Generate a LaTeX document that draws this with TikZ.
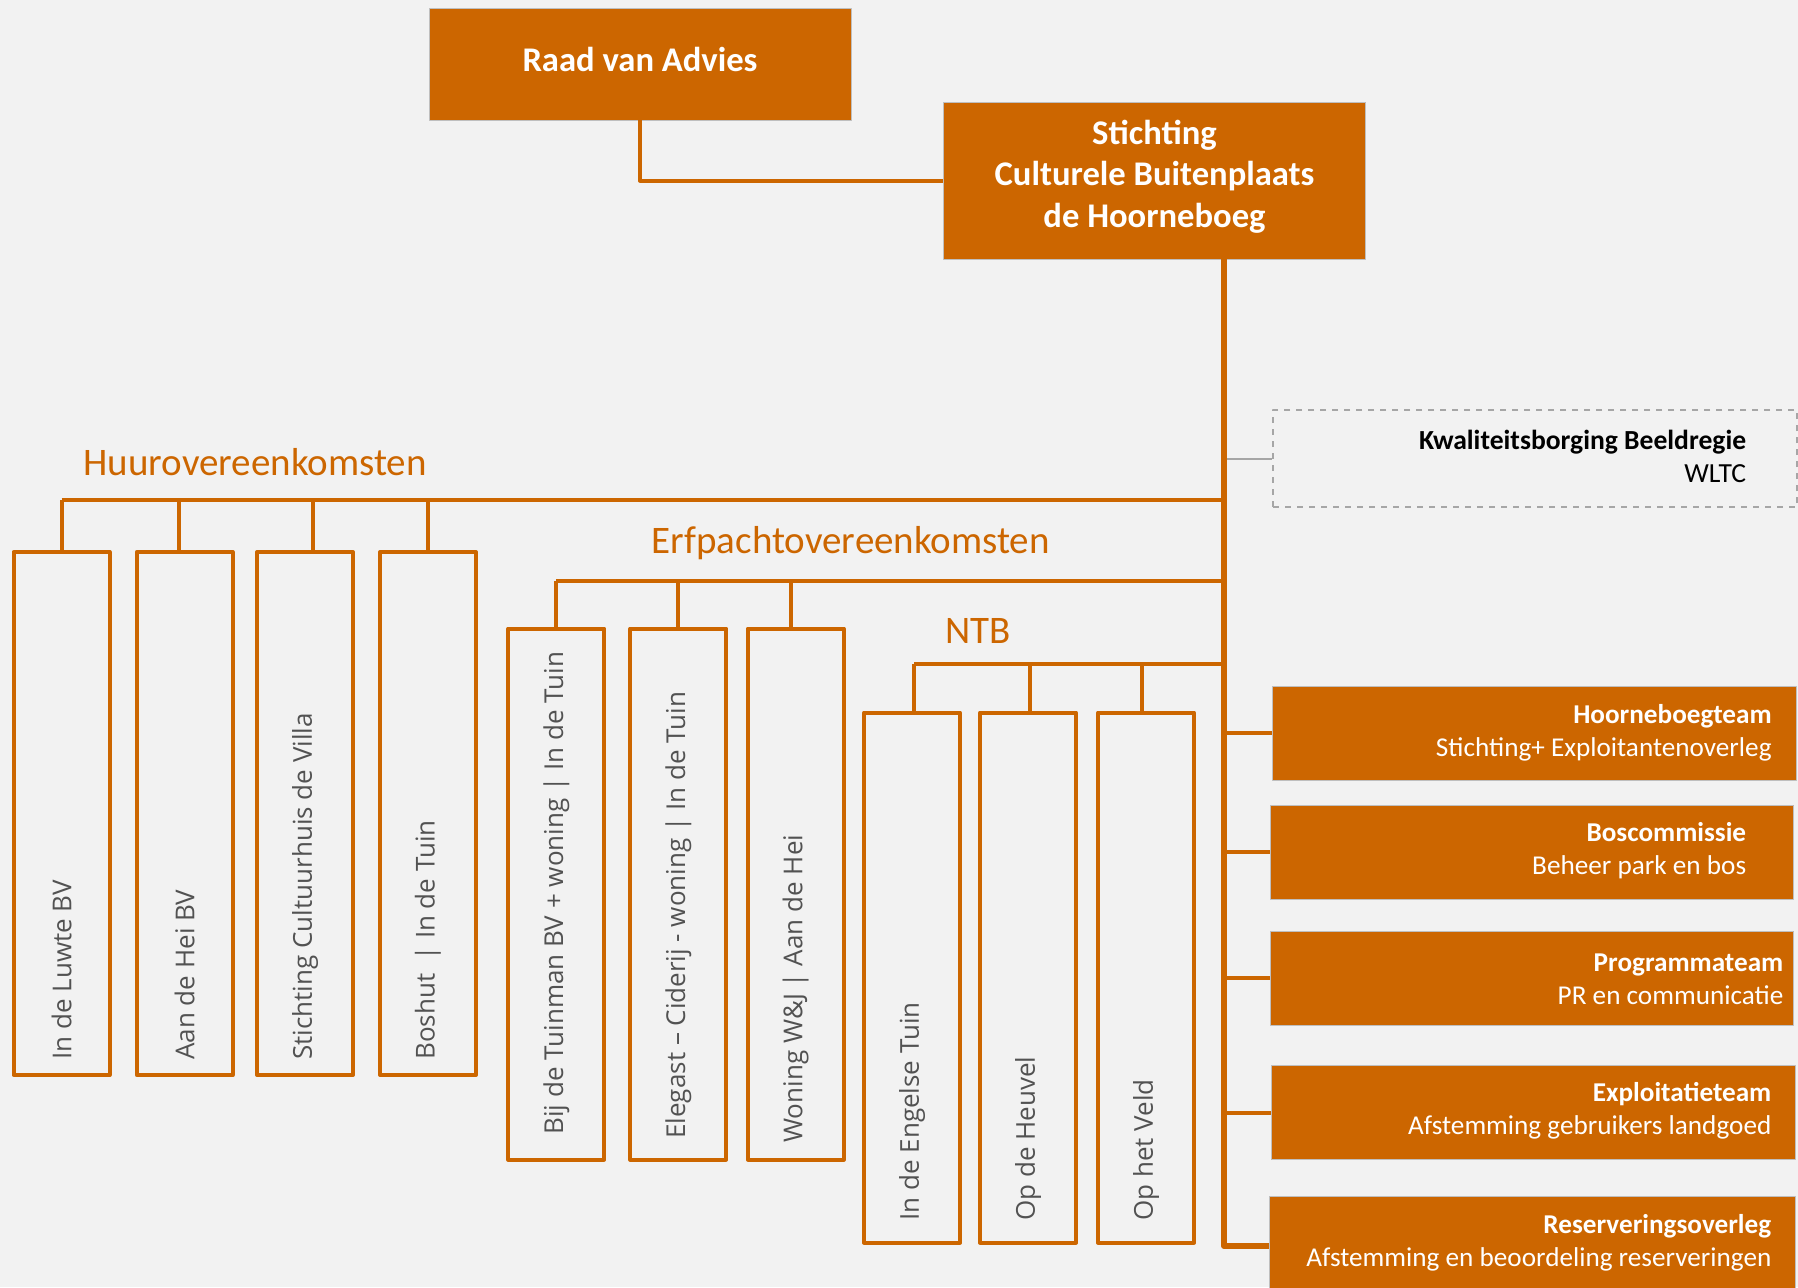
\documentclass[tikz,border=0pt]{standalone}
\usepackage{fontspec}
\setmainfont{Carlito}
\newfontfamily\osans{Open Sans}
\definecolor{oranje}{HTML}{CC6600}
\definecolor{achter}{HTML}{F2F2F2}
\definecolor{tekst}{HTML}{525252}
\begin{document}
\begin{tikzpicture}[x=0.5pt, y=-0.5pt, line join=round,
  blok/.style={fill=oranje, draw=gray!50, line width=0.4pt, text=white, inner sep=0pt},
  strook/.style={draw=oranje, line width=2pt, minimum width=48pt, inner sep=0pt},
  lijn/.style={draw=oranje, line width=2pt},
  kop/.style={text=oranje, font=\fontsize{19.5}{23}\selectfont, anchor=base west, inner sep=0pt},
  naam/.style={text=tekst, font=\osans\fontsize{13}{15}\selectfont, rotate=90, anchor=west, inner sep=0pt},
  team/.style={text=white, font=\fontsize{13.6}{16.5}\selectfont, align=right, anchor=east, inner sep=0pt}]
\path[use as bounding box, fill=achter] (0,0) rectangle (1798,1287);
\clip (0,0) rectangle (1798,1287);
% top
\node[blok, minimum width=211pt, minimum height=56pt, text depth=4.5pt, font=\bfseries\fontsize{17.3}{20}\selectfont] (raad) at (640,64) {Raad van Advies};
\node[blok, minimum width=211pt, minimum height=78.5pt, align=center, text depth=7pt, font=\bfseries\fontsize{17.3}{20.75}\selectfont] (stich) at (1154.5,180.5) {Stichting\\Culturele Buitenplaats\\de Hoorneboeg};
\coordinate (top) at (1224,259);
\coordinate (eind) at (1224,1246);
\coordinate (hb) at (1224,500);
\coordinate (eb) at (1224,581);
\coordinate (nb) at (1224,664);
% overeenkomsten
\node[kop] (huur) at (83,475) {Huurovereenkomsten};
\node[kop] (erf) at (651.5,553) {Erfpachtovereenkomsten};
\node[kop] (ntb) at (944.7,643) {NTB};
\foreach \n/\x/\s/\t in {h1/61.5/0/In de Luwte BV, h2/184.7/-3.1/Aan de Hei BV, h3/305/4/Stichting Cultuurhuis de Villa, h4/428/0/{Boshut\ \ | In de Tuin}}{
\node[strook, minimum height=261.5pt] (\n) at (\x,813.5) {};
\node[naam] (\n-t) at (\x,1060) {\t};
\draw[lijn] ([xshift=\s pt]\n.north) -- ([xshift=\s pt]\n.north |- hb);}
\foreach \n/\x/\y/\s/\t in {e1/556.3/1135/0/Bij de Tuinman BV + woning | In de Tuin, e2/678.3/1139/0/Elegast – Ciderij - woning | In de Tuin, e3/795.7/1143/-2.3/Woning W\&J | Aan de Hei}{
\node[strook, minimum height=265.5pt] (\n) at (\x,894) {};
\node[naam] (\n-t) at (\x,\y) {\t};
\draw[lijn] ([xshift=\s pt]\n.north) -- ([xshift=\s pt]\n.north |- eb);}
\foreach \n/\x/\s/\t in {n1/912/1/In de Engelse Tuin, n2/1028/1/Op de Heuvel, n3/1146/-2.1/Op het Veld}{
\node[strook, minimum height=265pt] (\n) at (\x,977.5) {};
\node[naam] (\n-t) at (\x,1221) {\t};
\draw[lijn] ([xshift=\s pt]\n.north) -- ([xshift=\s pt]\n.north |- nb);}
\draw[lijn] (h1.north |- hb) -- (hb);
\draw[lijn] (e1.north |- eb) -- (eb);
\draw[lijn] ([xshift=1pt]n1.north |- nb) -- (nb);
% teams
\node[draw=gray!70, dashed, line width=0.8pt, minimum width=262pt, minimum height=48.5pt] (kwal) at (1535,458.5) {};
\node[team, text=black, font=\fontsize{13.8}{16.5}\selectfont] (kwal-t) at (1746.5,456.5) {\textbf{Kwaliteitsborging Beeldregie}\\WLTC};
\node[blok, minimum width=262pt, minimum height=47pt] (hoorn) at (1534,733) {};
\node[team] (hoorn-t) at (1772,732.5) {\textbf{Hoorneboegteam}\\Stichting+ Exploitantenoverleg};
\node[blok, minimum width=261.5pt, minimum height=47pt] (bos) at (1532,852) {};
\node[team] (bos-t) at (1746.5,850.5) {\textbf{Boscommissie}\\Beheer park en bos};
\node[blok, minimum width=261.5pt, minimum height=47pt] (prog) at (1532,978) {};
\node[team] (prog-t) at (1783.7,979.5) {\textbf{Programmateam}\\PR en communicatie};
\node[blok, minimum width=262pt, minimum height=47pt] (expl) at (1533,1112.5) {};
\node[team] (expl-t) at (1771.7,1111) {\textbf{Exploitatieteam}\\Afstemming gebruikers landgoed};
\node[blok, minimum width=263pt, minimum height=47pt] (res) at (1532,1243) {};
\node[team] (res-t) at (1771.7,1243) {\textbf{Reserveringsoverleg}\\Afstemming en beoordeling reserveringen};
% verbindingen
\draw[lijn] (raad.south) |- (stich.west);
\draw[gray!70, line width=1pt] (kwal.west -| top) -- (kwal.west);
\foreach \b in {hoorn,bos,prog,expl}
\draw[lijn] (\b.west -| top) -- (\b.west);
\draw[lijn, line width=3pt] (top) -- (eind) -- (eind -| res.west);
\end{tikzpicture}
\end{document}
